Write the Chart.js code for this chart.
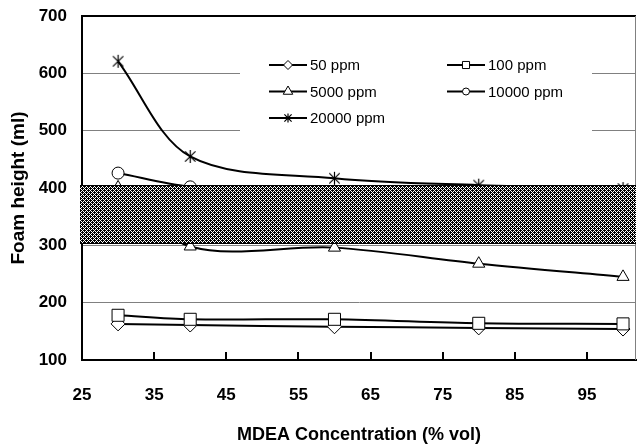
<!DOCTYPE html>
<html lang="en">
<head>
<meta charset="UTF-8">
<title>Foam height vs MDEA concentration</title>
<script src="https://cdn.jsdelivr.net/npm/chart.js@4"></script>
<style>
  body { margin: 0; background: #fff; }
  #wrap { width: 638px; height: 446px; }
</style>
</head>
<body>
<div id="wrap"><canvas id="grafica" width="638" height="446"></canvas></div>
<script>
  // datos
  const concentracion = [30, 40, 60, 80, 100];
  const ppm50 = [163, 161, 158, 156, 154];
  const ppm100 = [178, 171, 171, 164, 163];
  const ppm5000 = [401, 298, 296, 268, 245];
  const ppm10000 = [426, 402, 385, 378, 372];
  const ppm20000 = [621, 455, 417, 405, 399];
  const etiquetas = ['50 ppm', '100 ppm', '5000 ppm', '10000 ppm', '20000 ppm'];
  const xTicks = [25, 35, 45, 55, 65, 75, 85, 95];
  const yTicks = [100, 200, 300, 400, 500, 600, 700];
  const banda = [302, 406];

  const series = [ppm50, ppm100, ppm5000, ppm10000, ppm20000];

  function estrella(size) {
    const c = document.createElement('canvas');
    c.width = size; c.height = size;
    const g = c.getContext('2d');
    const m = size / 2, r = size / 2 - 1, d = r * 0.8;
    g.strokeStyle = '#000';
    g.lineWidth = 1.2;
    g.beginPath();
    g.moveTo(m, m - r); g.lineTo(m, m + r);
    g.moveTo(m - d, m - d); g.lineTo(m + d, m + d);
    g.moveTo(m + d, m - d); g.lineTo(m - d, m + d);
    g.stroke();
    return c;
  }

  const estilos = ['rectRot', 'rect', 'triangle', 'circle', estrella(15)];
  const radios = [7, 8.5, 7, 6, 7];

  function patron(ctx) {
    const c = document.createElement('canvas');
    c.width = 4; c.height = 4;
    const g = c.getContext('2d');
    g.fillStyle = '#000';
    g.fillRect(0, 0, 4, 4);
    g.fillStyle = '#fff';
    for (let x = 0; x < 4; x++) {
      for (let y = 0; y < 4; y++) {
        if ((x + y) % 4 === 0 || (x - y + 4) % 4 === 0) g.fillRect(x, y, 1, 1);
      }
    }
    return ctx.createPattern(c, 'repeat');
  }

  function marca(ctx, tipo, x, y, r) {
    ctx.beginPath();
    if (tipo === 'rectRot') {
      ctx.moveTo(x, y - r); ctx.lineTo(x + r, y); ctx.lineTo(x, y + r); ctx.lineTo(x - r, y); ctx.closePath();
    } else if (tipo === 'rect') {
      const s = r * Math.SQRT1_2;
      ctx.rect(x - s, y - s, 2 * s, 2 * s);
    } else if (tipo === 'triangle') {
      ctx.moveTo(x, y - r); ctx.lineTo(x + r * 0.866, y + r * 0.5); ctx.lineTo(x - r * 0.866, y + r * 0.5); ctx.closePath();
    } else if (tipo === 'circle') {
      ctx.arc(x, y, r, 0, Math.PI * 2);
    } else {
      const d = r * 0.8;
      ctx.moveTo(x, y - r); ctx.lineTo(x, y + r);
      ctx.moveTo(x - d, y - d); ctx.lineTo(x + d, y + d);
      ctx.moveTo(x + d, y - d); ctx.lineTo(x - d, y + d);
      ctx.lineWidth = 1.2;
      ctx.stroke();
      return;
    }
    ctx.fillStyle = '#fff';
    ctx.fill();
    ctx.lineWidth = 1;
    ctx.stroke();
  }

  const marcoPlugin = {
    id: 'marco',
    beforeDatasetsDraw(chart) {
      const { ctx, chartArea: a, scales: { x } } = chart;
      ctx.save();
      ctx.strokeStyle = '#000';
      ctx.lineWidth = 2;
      ctx.beginPath();
      ctx.moveTo(a.left, a.top); ctx.lineTo(a.right, a.top);
      ctx.stroke();
      ctx.strokeStyle = '#808080';
      ctx.lineWidth = 1;
      ctx.beginPath();
      ctx.moveTo(a.right - 0.5, a.top); ctx.lineTo(a.right - 0.5, a.bottom);
      ctx.stroke();
      // marcas hacia dentro en el eje x
      ctx.strokeStyle = '#000';
      ctx.lineWidth = 2;
      ctx.beginPath();
      xTicks.slice(1).forEach(v => {
        const px = Math.round(x.getPixelForValue(v));
        ctx.moveTo(px, a.bottom); ctx.lineTo(px, a.bottom - 8);
      });
      ctx.stroke();
      ctx.restore();
    }
  };

  const bandaPlugin = {
    id: 'banda',
    afterDatasetsDraw(chart) {
      const { ctx, chartArea: a, scales: { y } } = chart;
      const yTop = Math.round(y.getPixelForValue(banda[1]));
      const yBot = Math.round(y.getPixelForValue(banda[0]));
      ctx.save();
      ctx.fillStyle = patron(ctx);
      ctx.fillRect(a.left - 2, yTop, a.right - a.left + 2, yBot - yTop);
      ctx.strokeStyle = '#000';
      ctx.lineWidth = 1;
      ctx.beginPath();
      ctx.moveTo(a.left - 2, yTop + 0.5); ctx.lineTo(a.right, yTop + 0.5);
      ctx.moveTo(a.left - 2, yBot - 0.5); ctx.lineTo(a.right, yBot - 0.5);
      ctx.stroke();
      ctx.restore();
    }
  };

  const leyendaPlugin = {
    id: 'leyenda',
    afterDraw(chart) {
      const { ctx } = chart;
      const cols = [269, 447];
      const filas = [65, 91.5, 118];
      const pos = [[0, 0], [1, 0], [0, 1], [1, 1], [0, 2]];
      const tam = [4.5, 5, 5.5, 3.5, 4.5];
      ctx.save();
      ctx.fillStyle = '#fff';
      ctx.fillRect(240, 44, 352, 96);
      ctx.font = '15px "Liberation Sans", Arial, sans-serif';
      ctx.textBaseline = 'middle';
      ctx.textAlign = 'left';
      etiquetas.forEach((t, i) => {
        const x0 = cols[pos[i][0]];
        const y0 = filas[pos[i][1]];
        ctx.strokeStyle = '#000';
        ctx.lineWidth = 2;
        ctx.beginPath();
        ctx.moveTo(x0, y0); ctx.lineTo(x0 + 38, y0);
        ctx.stroke();
        marca(ctx, typeof estilos[i] === 'string' ? estilos[i] : 'star', x0 + 19, y0, tam[i]);
        ctx.fillStyle = '#000';
        ctx.fillText(t, x0 + 41, y0 + 1);
      });
      ctx.restore();
    }
  };

  const fuenteEje = { family: '"Liberation Sans", Arial, sans-serif', size: 17, weight: 'bold' };

  const ctx = document.getElementById('grafica').getContext('2d');
  new Chart(ctx, {
    type: 'line',
    data: {
      datasets: series.map((s, i) => ({
        label: etiquetas[i],
        data: s.map((v, j) => ({ x: concentracion[j], y: v })),
        borderColor: '#000',
        borderWidth: 2,
        tension: 0.33,
        fill: false,
        pointStyle: estilos[i],
        pointRadius: radios[i],
        pointBackgroundColor: '#fff',
        pointBorderColor: '#000',
        pointBorderWidth: 1,
        order: 5 - i
      }))
    },
    options: {
      responsive: false,
      animation: false,
      layout: { autoPadding: false, padding: { top: 16, right: 2, left: 0, bottom: 0 } },
      plugins: {
        legend: { display: false },
        tooltip: { enabled: false }
      },
      scales: {
        x: {
          type: 'linear',
          min: 25,
          max: 101.8,
          afterBuildTicks: s => { s.ticks = xTicks.map(v => ({ value: v })); },
          afterFit: s => { s.height = 86; s.paddingLeft = 0; s.paddingRight = 0; },
          grid: { color: 'rgba(0,0,0,0)', drawTicks: false },
          border: { display: true, color: '#000', width: 2 },
          ticks: { font: fuenteEje, color: '#000', padding: 25, maxRotation: 0 },
          title: {
            display: true,
            text: 'MDEA Concentration (% vol)',
            font: { family: '"Liberation Sans", Arial, sans-serif', size: 18, weight: 'bold' },
            color: '#000',
            padding: { top: 0, bottom: 0 }
          }
        },
        y: {
          min: 100,
          max: 700,
          afterBuildTicks: s => { s.ticks = yTicks.map(v => ({ value: v })); },
          afterFit: s => { s.width = 82; s.paddingTop = 0; s.paddingBottom = 0; },
          grid: {
            color: c => (c.tick && (c.tick.value === 100 || c.tick.value === 700)) ? 'rgba(0,0,0,0)' : '#808080',
            lineWidth: 1,
            drawTicks: false
          },
          border: { display: true, color: '#000', width: 2 },
          ticks: { font: fuenteEje, color: '#000', padding: 15 },
          title: {
            display: true,
            text: 'Foam height (ml)',
            font: { family: '"Liberation Sans", Arial, sans-serif', size: 19, weight: 'bold' },
            color: '#000',
            padding: { top: 7, bottom: 0 }
          }
        }
      }
    },
    plugins: [marcoPlugin, bandaPlugin, leyendaPlugin]
  });
</script>
</body>
</html>
